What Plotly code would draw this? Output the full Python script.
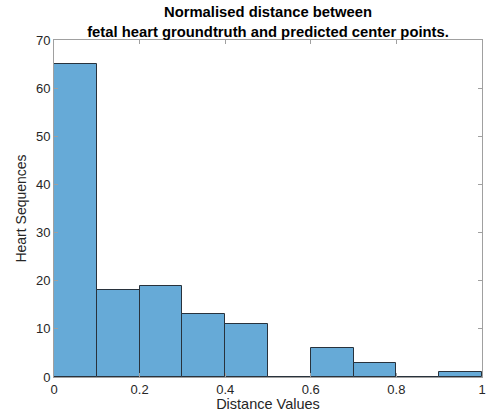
import plotly.graph_objects as go

bin_edges = [0.0, 0.1, 0.2, 0.3, 0.4, 0.5, 0.6, 0.7, 0.8, 0.9, 1.0]
counts = [65, 18, 19, 13, 11, 0, 6, 3, 0, 1]
x_ticks = [0, 0.2, 0.4, 0.6, 0.8, 1]
x_tick_labels = ["0", "0.2", "0.4", "0.6", "0.8", "1"]
y_ticks = [0, 10, 20, 30, 40, 50, 60, 70]

centers = [(bin_edges[i] + bin_edges[i + 1]) / 2 for i in range(len(counts))]
widths = [bin_edges[i + 1] - bin_edges[i] for i in range(len(counts))]

fig = go.Figure(go.Bar(
    x=centers, y=counts, width=widths,
    marker=dict(color="rgb(102,170,215)", line=dict(color="rgb(40,50,60)", width=1)),
))

font = "Liberation Sans, Arial, Helvetica, sans-serif"
axis_common = dict(
    showline=True, linecolor="rgb(160,160,160)", linewidth=1, mirror="ticks",
    ticks="inside", ticklen=4, tickcolor="rgb(160,160,160)",
    showgrid=False, zeroline=False, ticklabeloverflow="allow",
    tickfont=dict(family=font, size=13, color="rgb(38,38,38)"),
)

fig.update_layout(
    width=488, height=412,
    margin=dict(l=54, r=2, t=40, b=35),
    paper_bgcolor="white", plot_bgcolor="white",
    showlegend=False,
    title=dict(
        text="<b>Normalised distance between<br>fetal heart groundtruth and predicted center points.</b>",
        x=0.5, xref="paper", xanchor="center", y=0.958, yref="container", yanchor="middle",
        font=dict(family=font, size=14.8, color="black"),
    ),
    xaxis=dict(range=[0, 1], tickvals=x_ticks, ticktext=x_tick_labels,
               title=dict(text="Distance Values", standoff=3,
                          font=dict(family=font, size=14.5, color="rgb(38,38,38)")),
               **axis_common),
    yaxis=dict(range=[0, 70], tickvals=y_ticks,
               title=dict(text="Heart Sequences", standoff=6,
                          font=dict(family=font, size=14, color="rgb(38,38,38)")),
               **axis_common),
    bargap=0,
)

fig.write_html("out.html", config={"displayModeBar": False},
               post_script="document.body.style.margin='0';")
